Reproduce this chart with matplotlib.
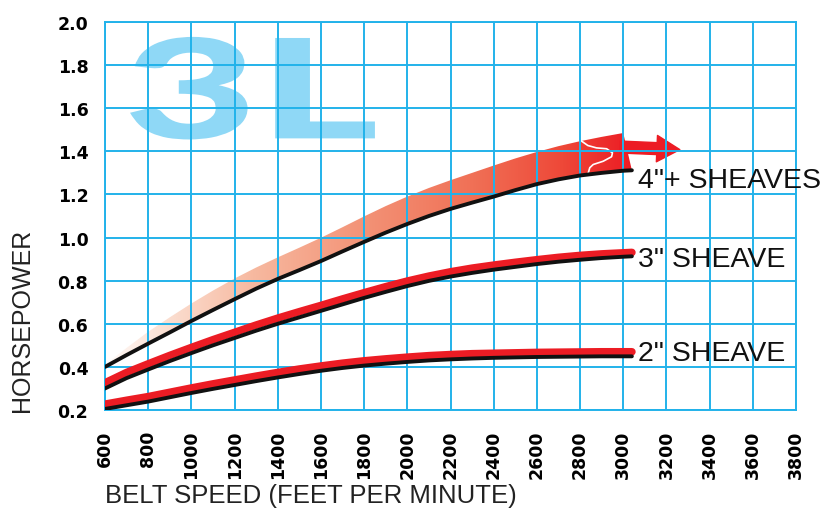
import numpy as np
import matplotlib
matplotlib.use("Agg")
import matplotlib.pyplot as plt
from matplotlib.patches import Polygon, PathPatch
from matplotlib.textpath import TextPath
from matplotlib.font_manager import FontProperties
from matplotlib.colors import LinearSegmentedColormap
import matplotlib.transforms as mtransforms

# belt speed (ft/min)
speed = [600, 700, 800, 900, 1000, 1100, 1200, 1300, 1400, 1500, 1600, 1700, 1800,
         1900, 2000, 2100, 2200, 2300, 2400, 2500, 2600, 2700, 2800, 2900, 3000, 3040]

# black rating curves (horsepower)
hp_2in = [0.205, 0.222, 0.239, 0.259, 0.279, 0.298, 0.316, 0.334, 0.351, 0.367, 0.382, 0.395,
          0.406, 0.415, 0.423, 0.430, 0.435, 0.439, 0.442, 0.444, 0.446, 0.447, 0.448, 0.449, 0.449, 0.449]
hp_3in = [0.300, 0.348, 0.388, 0.427, 0.464, 0.500, 0.534, 0.568, 0.600, 0.630, 0.660, 0.690,
          0.720, 0.748, 0.775, 0.799, 0.819, 0.836, 0.851, 0.864, 0.877, 0.888, 0.897, 0.905, 0.911, 0.913]
hp_4in = [0.400, 0.455, 0.508, 0.560, 0.613, 0.664, 0.714, 0.763, 0.808, 0.849, 0.891, 0.936,
          0.980, 1.023, 1.063, 1.100, 1.133, 1.162, 1.190, 1.220, 1.248, 1.270, 1.288, 1.300, 1.310, 1.312]

# red curves
red_2in = [0.227, 0.245, 0.262, 0.282, 0.302, 0.321, 0.339, 0.357, 0.374, 0.390, 0.404, 0.417,
           0.428, 0.437, 0.445, 0.452, 0.457, 0.461, 0.463, 0.465, 0.467, 0.468, 0.469, 0.470, 0.470, 0.470]
red_3in = [0.326, 0.374, 0.414, 0.453, 0.490, 0.526, 0.560, 0.594, 0.626, 0.656, 0.685, 0.715,
           0.744, 0.772, 0.798, 0.821, 0.841, 0.858, 0.872, 0.885, 0.897, 0.908, 0.917, 0.924, 0.929, 0.931]

# upper edge of the 4" band
band_speed = speed[:-1]
band_top = [0.410, 0.488, 0.563, 0.630, 0.694, 0.754, 0.810, 0.861, 0.908, 0.953, 0.999, 1.048,
            1.098, 1.146, 1.190, 1.230, 1.266, 1.300, 1.334, 1.367, 1.397, 1.424, 1.447, 1.467, 1.485]

# white mark inside band
mark_x = [2802, 2836, 2876, 2923, 2950, 2946, 2907, 2861, 2845, 2838]
mark_y = [1.451, 1.427, 1.416, 1.412, 1.393, 1.375, 1.354, 1.339, 1.324, 1.30]

x_ticks = list(range(600, 3801, 200))
y_ticks = [0.2, 0.4, 0.6, 0.8, 1.0, 1.2, 1.4, 1.6, 1.8, 2.0]

grid_c = "#22b2ea"
red = "#ec1c24"

fig = plt.figure(figsize=(8.25, 5.1), dpi=100)
ax = fig.add_axes([105 / 825, 99 / 510, 691 / 825, 388 / 510])
ax.set_xlim(600, 3800)
ax.set_ylim(0.2, 2.0)

# big "3L"
fp = FontProperties(family=["Lato", "DejaVu Sans"], weight="black")
tp = TextPath((0, 0), "3L", prop=fp, size=1)
ext = tp.get_extents()
bx0, bx1, by0, by1 = 716, 1850, 1.455, 1.931
tr = (mtransforms.Affine2D().translate(-ext.x0, -ext.y0)
      .scale((bx1 - bx0) / ext.width, (by1 - by0) / ext.height)
      .translate(bx0, by0))
ax.add_patch(PathPatch(tr.transform_path(tp), facecolor="#8fd8f6", edgecolor="none", zorder=0.5))

# gradient band for 4" sheaves
poly_x = band_speed + speed[::-1]
poly_y = band_top + hp_4in[::-1]
band = Polygon(np.column_stack([poly_x, poly_y]), closed=True, facecolor="none", edgecolor="none")
ax.add_patch(band)
cmap = LinearSegmentedColormap.from_list("band", [
    (0.0, (255/255, 250/255, 248/255)),
    (0.12, (251/255, 222/255, 208/255)),
    (0.28, (247/255, 185/255, 160/255)),
    (0.50, (243/255, 145/255, 117/255)),
    (0.70, (240/255, 112/255, 86/255)),
    (0.87, (238/255, 72/255, 56/255)),
    (1.0, (236/255, 28/255, 36/255)),
])
grad = np.linspace(0, 1, 256).reshape(1, -1)
im = ax.imshow(grad, cmap=cmap, extent=[600, 3040, 0.3, 1.6], aspect="auto",
               origin="lower", zorder=1, interpolation="bilinear")
im.set_clip_path(band)

ax.annotate("", xy=(3262, 1.408), xytext=(2985, 1.42),
            arrowprops=dict(arrowstyle="simple,head_length=1.65,head_width=1.9,tail_width=0.86",
                            color=red, shrinkA=0, shrinkB=0, mutation_scale=10),
            zorder=1)
ax.plot(mark_x, mark_y, color="white", lw=1.2, zorder=1.5)

# grid
ax.set_xticks(x_ticks)
ax.set_yticks(y_ticks)
ax.grid(True, color=grid_c, lw=1.4, zorder=2)
ax.set_axisbelow(False)
for s in ax.spines.values():
    s.set_color(grid_c)
    s.set_linewidth(1.4)
    s.set_zorder(2)

# curves
ax.plot(speed, red_2in, color=red, lw=5.5, solid_capstyle="round", zorder=3)
ax.plot(speed, red_3in, color=red, lw=5.5, solid_capstyle="round", zorder=3)
for hp in (hp_2in, hp_3in, hp_4in):
    ax.plot(speed, hp, color="#111111", lw=2.8, solid_capstyle="round", zorder=4)

lab_font = "Liberation Sans"
ax.text(3068, 1.265, '4"+ SHEAVES', fontsize=20.5, family=lab_font, va="center", ha="left", clip_on=False, color="#111111")
ax.text(3068, 0.899, '3" SHEAVE', fontsize=20.5, family=lab_font, va="center", ha="left", clip_on=False, color="#111111")
ax.text(3068, 0.464, '2" SHEAVE', fontsize=20.5, family=lab_font, va="center", ha="left", clip_on=False, color="#111111")

ax.tick_params(length=0, labelsize=12.5)
ax.tick_params(axis="x", pad=14, labelrotation=90)
ax.tick_params(axis="y", pad=12)
ax.set_xticklabels([str(v) for v in x_ticks], fontweight="bold", family="DejaVu Sans", va="top")
ax.set_yticklabels([f"{v:.1f}" for v in y_ticks], fontweight="bold", family="DejaVu Sans")

fig.text(22 / 825, (510 - 320) / 510, "HORSEPOWER", rotation=90, fontsize=18,
         family=lab_font, ha="center", va="center", color="#222222")
fig.text(105 / 825, (510 - 496) / 510, "BELT SPEED (FEET PER MINUTE)", fontsize=18.5,
         family=lab_font, ha="left", va="center", color="#222222")

fig.savefig("out.png", dpi=100)
